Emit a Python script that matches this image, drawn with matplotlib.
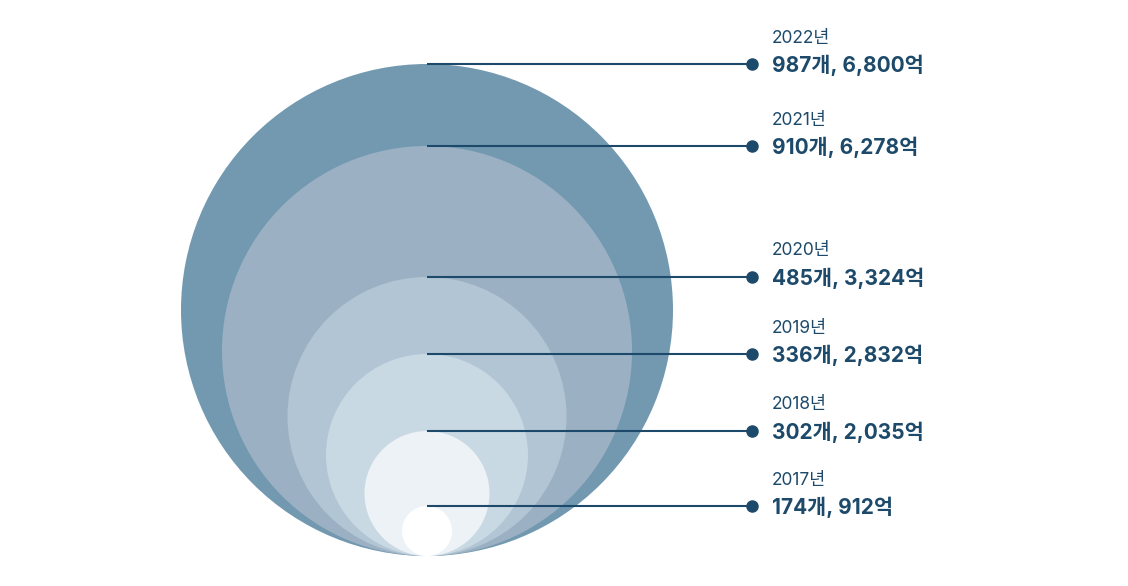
import matplotlib
matplotlib.use("Agg")
import matplotlib.pyplot as plt
from matplotlib.patches import Circle

years = ["2022년", "2021년", "2020년", "2019년", "2018년", "2017년"]
counts = [987, 910, 485, 336, 302, 174]
amounts = ["6,800", "6,278", "3,324", "2,832", "2,035", "912"]
bubble_diam = [492, 410, 279, 202, 125, 50]
colors = ["#7399b0", "#9bb1c3", "#b2c5d4", "#c9d9e4", "#edf2f6", "#ffffff"]

plt.rcParams['font.family'] = ['Inter', 'Noto Sans CJK KR', 'DejaVu Sans']
navy = "#1d4a6a"

fig = plt.figure(figsize=(11.28, 5.86), dpi=100)
ax = fig.add_axes([0, 0, 1, 1])
ax.set_xlim(0, 1128)
ax.set_ylim(586, 0)
ax.set_aspect('equal')
ax.axis('off')

cx = 427
bottom = 556
dot_x = 752
text_x = 772
for yr, c, a, d, col in zip(years, counts, amounts, bubble_diam, colors):
    r = d / 2
    ax.add_patch(Circle((cx, bottom - r), r, facecolor=col, edgecolor='none', zorder=1))
for yr, c, a, d in zip(years, counts, amounts, bubble_diam):
    top = bottom - d
    ax.plot([cx, dot_x], [top, top], color=navy, lw=1.5, zorder=3, solid_capstyle='butt')
    ax.plot([dot_x], [top], 'o', color=navy, ms=8, zorder=4)
    ax.text(text_x, top - 26, yr, fontsize=12.5, color=navy, va='center', ha='left')
    ax.text(text_x, top + 1, f"{c}개, {a}억", fontsize=15, fontweight='bold',
            color=navy, va='center', ha='left')

fig.savefig("out.png", dpi=100)
